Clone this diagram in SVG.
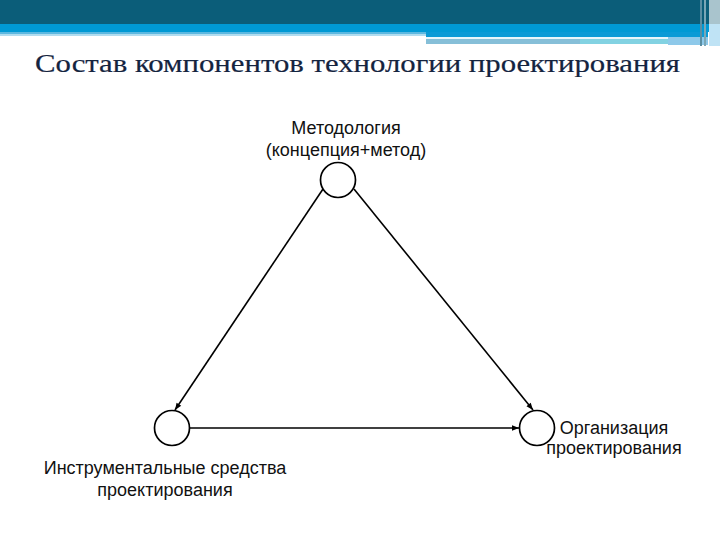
<svg xmlns="http://www.w3.org/2000/svg" width="720" height="540" viewBox="0 0 720 540">
<style>
.lbl{font-family:"Liberation Sans",Arial,sans-serif;font-size:18px;fill:#111;text-anchor:middle}
.node{fill:#fff;stroke:#000;stroke-width:1.7}
.edge{stroke:#000;stroke-width:1.6;fill:none;marker-end:url(#ah)}
</style>
<defs>
<marker id="ah" viewBox="0 0 10 10" refX="10" refY="5" markerWidth="8" markerHeight="7" markerUnits="userSpaceOnUse" orient="auto">
<path d="M0,1 L10,5 L0,9 z" fill="#000"/>
</marker>
</defs>
<rect width="720" height="540" fill="#fff"/>
<g id="header">
<rect x="0" y="0" width="720" height="24" fill="#0b5d79"/>
<rect x="0" y="24" width="720" height="8" fill="#0099d4"/>
<rect x="0" y="32" width="426" height="2" fill="#5cb8e0"/>
<rect x="0" y="34" width="426" height="2" fill="#b0dcef"/>
<rect x="426" y="32" width="282" height="5" fill="#0a9ad6"/>
<rect x="426" y="37" width="282" height="2" fill="#e8f6fb"/>
<rect x="426" y="39" width="154" height="5" fill="#86bfd8"/>
<rect x="580" y="39" width="88" height="5" fill="#82d2e2"/>
<rect x="668" y="37" width="40" height="8" fill="#8ec9ea"/>
<rect x="700" y="0" width="2" height="46" fill="#5a8ea3"/>
<rect x="704" y="0" width="2" height="46" fill="#7aa6b6"/>
<rect x="709" y="0" width="11" height="24" fill="#a9c4cd"/>
<rect x="709" y="24" width="11" height="22" fill="#bfe3f5"/>
</g>
<text id="title" x="35" y="72" font-family="'Liberation Serif','Times New Roman',serif" font-size="26" fill="#14243f" stroke="#14243f" stroke-width="0.2" textLength="645" lengthAdjust="spacingAndGlyphs">Состав компонентов технологии проектирования</text>
<g id="connectors">
<line class="edge" x1="323" y1="189" x2="175" y2="410"/>
<line class="edge" x1="354" y1="189" x2="533" y2="410"/>
<line class="edge" x1="190" y1="428" x2="519" y2="428"/>
</g>
<g id="node-method">
<circle class="node" cx="338" cy="180" r="17.5"/>
<text class="lbl" x="346" y="134">Методология</text>
<text class="lbl" x="346" y="156">(концепция+метод)</text>
</g>
<g id="node-tools">
<circle class="node" cx="172" cy="428" r="17.5"/>
<text class="lbl" x="165" y="474">Инструментальные средства</text>
<text class="lbl" x="165" y="496">проектирования</text>
</g>
<g id="node-org">
<circle class="node" cx="537" cy="428" r="17.5"/>
<text class="lbl" x="614" y="434">Организация</text>
<text class="lbl" x="614" y="454">проектирования</text>
</g>
</svg>
